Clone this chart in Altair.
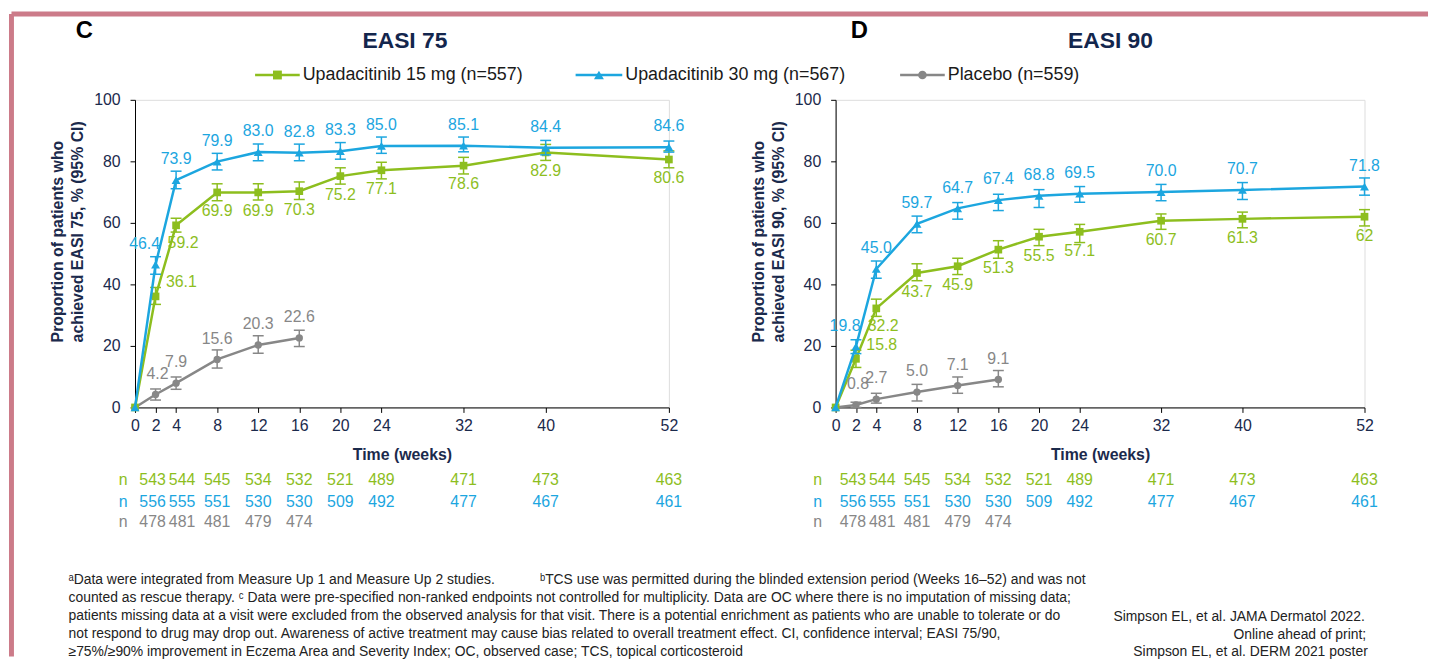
import altair as alt
import pandas as pd

# ---------------- data ----------------
weeks = [0, 2, 4, 8, 12, 16, 20, 24, 32, 40, 52]
weeks_pbo = [0, 2, 4, 8, 12, 16]
x_ticks = [0, 2, 4, 8, 12, 16, 20, 24, 32, 40, 52]
y_ticks = [0, 20, 40, 60, 80, 100]

series_names = ["Upadacitinib 15 mg (n=557)", "Upadacitinib 30 mg (n=567)", "Placebo (n=559)"]
series_colors = ["#8dbe1e", "#1ca6df", "#878787"]

# EASI 75
e75_u15 = [0.0, 36.1, 59.2, 69.9, 69.9, 70.3, 75.2, 77.1, 78.6, 82.9, 80.6]
e75_u15_lo = [None, 33.5, 57.0, 67.2, 67.4, 67.6, 72.6, 74.3, 75.9, 80.3, 77.9]
e75_u15_hi = [None, 39.0, 61.5, 72.7, 72.7, 73.3, 77.9, 79.7, 81.3, 85.5, 83.4]
e75_u30 = [0.0, 46.4, 73.9, 79.9, 83.0, 82.8, 83.3, 85.0, 85.1, 84.4, 84.6]
e75_u30_lo = [None, 43.3, 71.1, 77.2, 80.2, 80.2, 80.7, 82.6, 83.1, 82.1, 83.0]
e75_u30_hi = [None, 49.0, 76.8, 82.6, 85.6, 85.6, 86.1, 87.9, 87.9, 86.8, 86.6]
e75_pbo = [0.0, 4.2, 7.9, 15.6, 20.3, 22.6]
e75_pbo_lo = [None, 2.4, 5.9, 12.8, 17.6, 19.8]
e75_pbo_hi = [None, 6.0, 9.9, 18.7, 23.3, 25.1]

# EASI 90
e90_u15 = [0.0, 15.8, 32.2, 43.7, 45.9, 51.3, 55.5, 57.1, 60.7, 61.3, 62.0]
e90_u15_lo = [None, 13.0, 29.6, 41.2, 43.2, 48.5, 52.6, 53.6, 57.9, 58.4, 59.0]
e90_u15_hi = [None, 18.6, 35.2, 46.7, 48.5, 54.2, 57.9, 59.5, 62.9, 63.5, 64.3]
e90_u15_labels = ["0.0", "15.8", "32.2", "43.7", "45.9", "51.3", "55.5", "57.1", "60.7", "61.3", "62"]
e90_u30 = [0.0, 19.8, 45.0, 59.7, 64.7, 67.4, 68.8, 69.5, 70.0, 70.7, 71.8]
e90_u30_lo = [None, 17.5, 42.0, 56.8, 61.2, 64.0, 65.0, 66.7, 67.2, 67.6, 69.0]
e90_u30_hi = [None, 22.0, 47.6, 62.2, 66.6, 69.3, 70.8, 71.8, 72.5, 73.1, 74.6]
e90_pbo = [0.0, 0.8, 2.7, 5.0, 7.1, 9.1]
e90_pbo_lo = [None, 0.0, 1.4, 2.1, 4.6, 6.7]
e90_pbo_hi = [None, 1.7, 4.6, 7.5, 9.9, 12.0]

# numbers of patients (weeks 2..)
n_u15 = [543, 544, 545, 534, 532, 521, 489, 471, 473, 463]
n_u30 = [556, 555, 551, 530, 530, 509, 492, 477, 467, 461]
n_pbo = [478, 481, 481, 479, 474]

footnote_line1a = "ᵃData were integrated from Measure Up 1 and Measure Up 2 studies."
footnote_line1b = "ᵇTCS use was permitted during the blinded extension period (Weeks 16–52) and was not"
footnote_rest = [
    "counted as rescue therapy. ᶜ Data were pre-specified non-ranked endpoints not controlled for multiplicity. Data are OC where there is no imputation of missing data;",
    "patients missing data at a visit were excluded from the observed analysis for that visit. There is a potential enrichment as patients who are unable to tolerate or do",
    "not respond to drug may drop out. Awareness of active treatment may cause bias related to overall treatment effect. CI, confidence interval; EASI 75/90,",
    "≥75%/≥90% improvement in Eczema Area and Severity Index; OC, observed case; TCS, topical corticosteroid",
]
ref_lines = ["Simpson EL, et al. JAMA Dermatol 2022.", "Online ahead of print;", "Simpson EL, et al. DERM 2021 poster"]

# ---------------- styling ----------------
FONT = "Liberation Sans"
NAVY = "#1b2a4c"
BORDER = "#cc7b89"
FOOT = "#222222"
PW_L, PW_R, PH = 538, 533, 310


def series_frame(name, wk, vals, lo, hi, labels=None):
    if labels is None:
        labels = [f"{v:.1f}" for v in vals]
    return pd.DataFrame({"series": name, "week": wk, "value": vals, "lo": lo, "hi": hi, "label": labels})


color_scale = alt.Scale(domain=series_names, range=series_colors)
color_enc = alt.Color("series:N", scale=color_scale, legend=None)

x_axis = alt.Axis(values=x_ticks, title="Time (weeks)", grid=False, labelFontSize=16, labelColor=NAVY,
                  labelFont=FONT, titleFont=FONT, titleFontSize=16, titleFontWeight="bold", titleColor=NAVY,
                  tickSize=5, tickColor="#000000", domainColor="#000000", domainWidth=1, labelPadding=5,
                  titlePadding=13, labelFlush=False, labelOverlap=False, format="d")

one = pd.DataFrame({"k": [0]})

STYLE = {
    "pbo": dict(idx=2, shape="circle", size=55, dy=-21, exc={2: (2, -21)}),
    "u15": dict(idx=0, shape="square", size=60, dy=19, exc={2: (26, -14), 4: (7, 18)}),
    "u30": dict(idx=1, shape="triangle-up", size=80, dy=-21, exc={2: (-11, -21)}),
}
ROW_Y = {"u15": 383, "u30": 405, "pbo": 425}
N_DX = {2: -3, 4: 6}


def text_at(txt, x, y, size=16, color=NAVY, weight="normal", align="center", baseline="middle"):
    return alt.Chart(one).mark_text(text=txt, fontSize=size, font=FONT, color=color, fontWeight=weight,
                                    align=align, baseline=baseline).encode(x=alt.value(x), y=alt.value(y))


def build_panel(frames, ntabs, ytitle, title_txt, title_x, letter, letter_x, n_x, width, extras):
    y_axis = alt.Axis(values=y_ticks, title=ytitle, grid=False, labelFontSize=16, labelColor=NAVY,
                      labelFont=FONT, titleFont=FONT, titleFontSize=16, titleFontWeight="bold",
                      titleColor=NAVY, tickSize=5, tickColor="#000000", domainColor="#000000",
                      domainWidth=1, labelPadding=10, titleAlign="left", titleBaseline="bottom",
                      titleAngle=270, titleX=-70, titleY=244, titleLineHeight=20, format="d")
    yscale = alt.Scale(domain=[0, 100], nice=False, zero=True)
    xscale = alt.Scale(domain=[0, 52], nice=False, zero=False)
    X = alt.X("week:Q", scale=xscale, axis=x_axis)

    def Y(field):
        return alt.Y(field, scale=yscale, axis=y_axis)

    layers = []
    for key in ["pbo", "u15", "u30"]:
        df = frames[key]
        st = STYLE[key]
        base = alt.Chart(df)
        layers.append(base.mark_line(strokeWidth=2.5).encode(x=X, y=Y("value:Q"), color=color_enc))
        eb = base.transform_filter("isValid(datum.lo)")
        layers.append(eb.mark_rule(strokeWidth=1.5).encode(x=X, y=Y("lo:Q"), y2="hi:Q", color=color_enc))
        for f in ["lo:Q", "hi:Q"]:
            layers.append(eb.mark_tick(orient="horizontal", size=11, thickness=1.5, opacity=1)
                          .encode(x=X, y=Y(f), color=color_enc))
        layers.append(base.mark_point(shape=st["shape"], filled=True, size=st["size"], opacity=1)
                      .encode(x=X, y=Y("value:Q"), color=color_enc))

    for key in ["pbo", "u15", "u30"]:
        df = frames[key]
        st = STYLE[key]
        exc_weeks = list(st["exc"].keys())
        cond = "datum.week > 0" + "".join(f" && datum.week != {w}" for w in exc_weeks)
        layers.append(alt.Chart(df).transform_filter(cond)
                      .mark_text(fontSize=16, font=FONT, dy=st["dy"], align="center", baseline="middle")
                      .encode(x=X, y=Y("value:Q"), text="label:N", color=color_enc))
        for w, (ddx, ddy) in st["exc"].items():
            layers.append(alt.Chart(df).transform_filter(f"datum.week == {w}")
                          .mark_text(fontSize=16, font=FONT, dx=ddx, dy=ddy, align="center", baseline="middle")
                          .encode(x=X, y=Y("value:Q"), text="label:N", color=color_enc))

    # n table
    for key in ["u15", "u30", "pbo"]:
        nd = ntabs[key]
        cond = "true" + "".join(f" && datum.week != {w}" for w in N_DX)
        layers.append(alt.Chart(nd).transform_filter(cond)
                      .mark_text(fontSize=16, font=FONT, align="center", baseline="middle")
                      .encode(x=X, y=alt.value(ROW_Y[key]), text="n:Q", color=color_enc))
        for w, ddx in N_DX.items():
            layers.append(alt.Chart(nd).transform_filter(f"datum.week == {w}")
                          .mark_text(fontSize=16, font=FONT, align="center", baseline="middle", dx=ddx)
                          .encode(x=X, y=alt.value(ROW_Y[key]), text="n:Q", color=color_enc))
        layers.append(text_at("n", n_x, ROW_Y[key], size=16, color=series_colors[STYLE[key]["idx"]]))

    layers.append(text_at(title_txt, title_x, -59, size=23, weight="bold", color="#13264d"))
    layers.append(text_at(letter, letter_x, -69, size=24, weight="bold", color="#000000"))
    layers.extend(extras)
    return alt.layer(*layers).properties(width=width, height=PH)


def n_frame(name, wk, ns):
    return pd.DataFrame({"series": name, "week": wk, "n": ns})


ntabs = {
    "u15": n_frame(series_names[0], weeks[1:], n_u15),
    "u30": n_frame(series_names[1], weeks[1:], n_u30),
    "pbo": n_frame(series_names[2], weeks_pbo[1:], n_pbo),
}

frames75 = {
    "u15": series_frame(series_names[0], weeks, e75_u15, e75_u15_lo, e75_u15_hi),
    "u30": series_frame(series_names[1], weeks, e75_u30, e75_u30_lo, e75_u30_hi),
    "pbo": series_frame(series_names[2], weeks_pbo, e75_pbo, e75_pbo_lo, e75_pbo_hi),
}
frames90 = {
    "u15": series_frame(series_names[0], weeks, e90_u15, e90_u15_lo, e90_u15_hi, e90_u15_labels),
    "u30": series_frame(series_names[1], weeks, e90_u30, e90_u30_lo, e90_u30_hi),
    "pbo": series_frame(series_names[2], weeks_pbo, e90_pbo, e90_pbo_lo, e90_pbo_hi),
}

# ---- legend (guide drawn by hand: line + marker + label) ----
LEG_Y = -25
legend_items = [  # (series key, line start, line end)
    ("u15", 121, 166),
    ("u30", 444, 491),
    ("pbo", 771, 816),
]
legend_layers = []
for key, a, b in legend_items:
    st = STYLE[key]
    col = series_colors[st["idx"]]
    legend_layers.append(alt.Chart(one).mark_rule(color=col, strokeWidth=2.5)
                         .encode(x=alt.value(a), x2=alt.value(b), y=alt.value(LEG_Y)))
    legend_layers.append(alt.Chart(one).mark_point(shape=st["shape"], filled=True, size=st["size"] + 20,
                                                   opacity=1, color=col)
                         .encode(x=alt.value((a + b) / 2), y=alt.value(LEG_Y)))
    legend_layers.append(text_at(series_names[st["idx"]], b + 3, LEG_Y, size=18, color="#1a1a1a",
                                 align="left"))

border_left = alt.Chart(one).mark_rule(color=BORDER, strokeWidth=5).encode(
    x=alt.value(-124.5), y=alt.value(-86.5), y2=alt.value(561))
border_top = alt.Chart(one).mark_rule(color=BORDER, strokeWidth=5).encode(
    x=alt.value(-124.5), x2=alt.value(1303), y=alt.value(-86.5))

FS = 14
FOOT_Y = 484
foot_layers = [
    text_at(footnote_line1a, -67, FOOT_Y, size=FS, color=FOOT, align="left"),
    text_at(footnote_line1b, 408, FOOT_Y, size=FS, color=FOOT, align="left"),
]
for i, line in enumerate(footnote_rest):
    foot_layers.append(text_at(line, -67, FOOT_Y + 18 * (i + 1), size=FS, color=FOOT, align="left"))

ref_layers = [
    text_at(ref_lines[0], 280, FOOT_Y + 37, size=FS, color=FOOT, align="left"),
    text_at(ref_lines[1], 401, FOOT_Y + 55, size=FS, color=FOOT, align="left"),
    text_at(ref_lines[2], 300, FOOT_Y + 72, size=FS, color=FOOT, align="left"),
]

left = build_panel(frames75, ntabs, ["Proportion of patients who", "achieved EASI 75, % (95% CI)"],
                   "EASI 75", 272, "C", -51, -12, PW_L,
                   [border_left, border_top] + legend_layers + foot_layers)
right = build_panel(frames90, ntabs, ["Proportion of patients who", "achieved EASI 90, % (95% CI)"],
                    "EASI 90", 277, "D", 24, -18, PW_R, ref_layers)

chart = (alt.hconcat(left, right, spacing=168, bounds="flush")
         .properties(padding={"left": 0, "top": 0, "right": 0, "bottom": 0})
         .configure_view(stroke=None)
         .configure(font=FONT))

chart.save("out.html", embed_options={"renderer": "svg", "actions": False})
